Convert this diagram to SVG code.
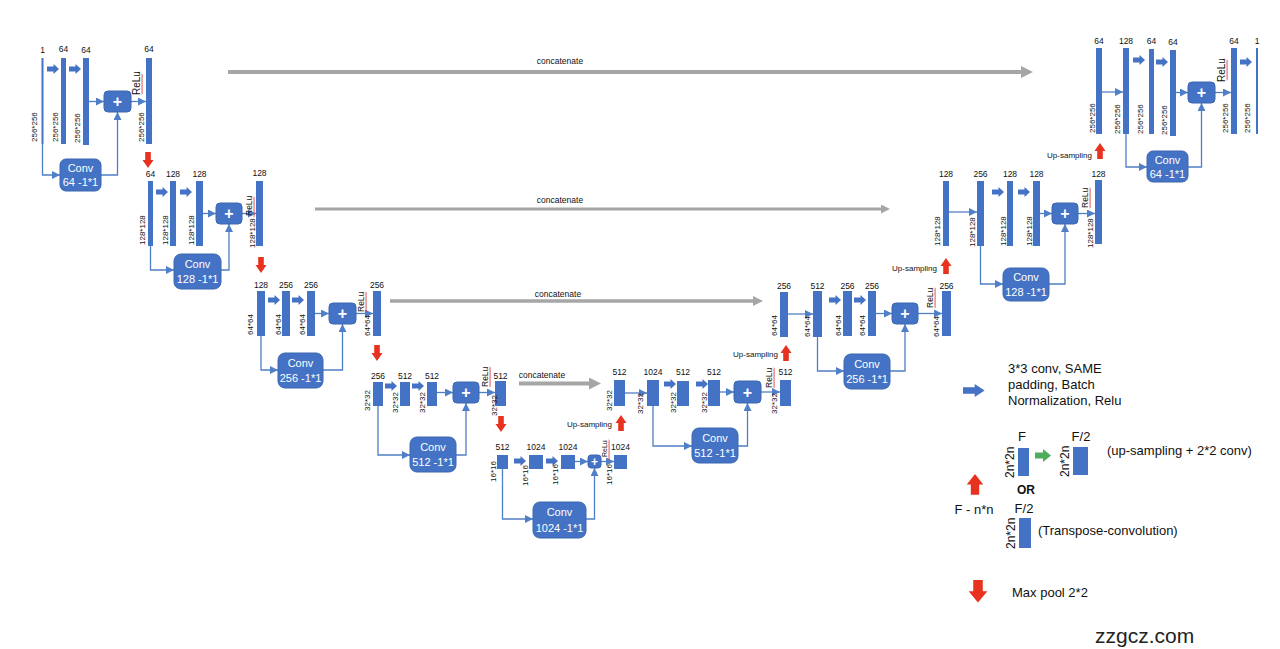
<svg xmlns="http://www.w3.org/2000/svg" xmlns:xlink="http://www.w3.org/1999/xlink" width="1280" height="649" viewBox="0 0 1280 649">
<defs>
<style>
.bar{fill:#4472c4}
.box{fill:#4472c4;stroke:#3d67b0;stroke-width:1}
.c{fill:none;stroke:#4f7fc6;stroke-width:1.3;marker-end:url(#ah)}
.g{fill:none;stroke:#a6a6a6;marker-end:url(#gh)}
.t{font-family:"Liberation Sans",Arial,sans-serif;font-size:8.5px;fill:#111;text-anchor:middle}
.s{font-family:"Liberation Sans",Arial,sans-serif;font-size:8px;fill:#111}
.r{font-family:"Liberation Sans",Arial,sans-serif;font-size:8.5px;fill:#111}
.r2{font-family:"Liberation Sans",Arial,sans-serif;font-size:10px;fill:#111}
.r3{font-family:"Liberation Sans",Arial,sans-serif;font-size:7px;fill:#111}
.w{font-family:"Liberation Sans",Arial,sans-serif;font-size:11px;fill:#fff;text-anchor:middle}
.p{font-family:"Liberation Sans",Arial,sans-serif;font-size:16px;font-weight:bold;fill:#fff;text-anchor:middle}
.sq{fill:none;stroke:#e0302a;stroke-width:0.8}
.lg{font-family:"Liberation Sans",Arial,sans-serif;font-size:13px;fill:#111}
.lr{font-family:"Liberation Sans",Arial,sans-serif;font-size:12px;fill:#111}
.us{font-family:"Liberation Sans",Arial,sans-serif;font-size:8px;fill:#111;text-anchor:end}
</style>
<marker id="ah" viewBox="0 0 10 10" refX="10" refY="5" markerWidth="8" markerHeight="8" markerUnits="userSpaceOnUse" orient="auto"><path d="M0,0 L10,5 L0,10 Z" fill="#4f7fc6"/></marker>
<marker id="gh" viewBox="0 0 10 10" refX="2" refY="5" markerWidth="3" markerHeight="3" markerUnits="strokeWidth" orient="auto"><path d="M0,0 L10,5 L0,10 Z" fill="#a6a6a6"/></marker>
<path id="ra" d="M0,2.5 H6.5 V0 L12,5 L6.5,10 V7.5 H0 Z" fill="#4472c4"/>
<path id="dn" d="M-2.8,0 H2.8 V8 H5.5 L0,16 L-5.5,8 H-2.8 Z" fill="#e8321f"/>
<path id="up" d="M-2.8,16 H2.8 V8 H5.5 L0,0 L-5.5,8 H-2.8 Z" fill="#e8321f"/>
<path id="sq" d="M0,0 l1.2,1 l-1.2,1 l1.2,1 l-1.2,1 l1.2,1 l-1.2,1 l1.2,1 l-1.2,1 l1.2,1 l-1.2,1 l1.2,1 l-1.2,1 l1.2,1 l-1.2,1 l1.2,1 l-1.2,1 l1.2,1 l-1.2,1 l1.2,1 l-1.2,1" class="sq"/>
</defs>
<rect width="1280" height="649" fill="#fff"/>

<g id="connectors">
<path class="c" d="M89,101.5 H104"/><path class="c" d="M131,101.5 H146"/><path class="c" d="M42.5,144 V175 H60"/><path class="c" d="M101,175 H117.5 V112"/>
<path class="c" d="M203,213.5 H216"/><path class="c" d="M242,213.5 H256"/><path class="c" d="M150.5,246 V270 H174"/><path class="c" d="M221,270 H229 V224"/>
<path class="c" d="M315,313.5 H329"/><path class="c" d="M356,313.5 H373"/><path class="c" d="M261,336 V370 H278"/><path class="c" d="M323,370 H342.5 V324"/>
<path class="c" d="M437,392.5 H453"/><path class="c" d="M479,392.5 H495"/><path class="c" d="M378,406 V455 H410"/><path class="c" d="M456,455 H466 V403"/>
<path class="c" d="M575,461.5 H588"/><path class="c" d="M601,461.5 H614"/><path class="c" d="M502.5,469 V519 H533"/><path class="c" d="M586,519 H594.5 V468"/>
<path class="c" d="M625,393 H647"/><path class="c" d="M720,392 H734"/><path class="c" d="M761,392 H780"/><path class="c" d="M653,406 V446 H692"/><path class="c" d="M738,446 H747.5 V403"/>
<path class="c" d="M788,314 H813"/><path class="c" d="M876,313.5 H892"/><path class="c" d="M918,313.5 H942"/><path class="c" d="M817.5,337 V371 H844"/><path class="c" d="M890,371 H905 V324"/>
<path class="c" d="M949,212 H977"/><path class="c" d="M1040,213.5 H1052"/><path class="c" d="M1078,213.5 H1095"/><path class="c" d="M980.5,246 V284 H1003"/><path class="c" d="M1049,284 H1065 V224"/>
<path class="c" d="M1102,92 H1123"/><path class="c" d="M1176,92.5 H1188"/><path class="c" d="M1215,92.5 H1231"/><path class="c" d="M1126,134 V167 H1147"/><path class="c" d="M1188,167 H1201.5 V103"/>
<path class="g" stroke-width="4" d="M228,72 H1023.4"/>
<path class="g" stroke-width="3" d="M315,209 H882.8"/>
<path class="g" stroke-width="3.5" d="M390,301 H754.6"/>
<path class="g" stroke-width="4" d="M519,383.5 H591.4"/>
<text class="t" x="560" y="64">concatenate</text>
<text class="t" x="560" y="203">concatenate</text>
<text class="t" x="558" y="297">concatenate</text>
<text class="t" x="542" y="378">concatenate</text>
</g>

<!-- Encoder level 1 -->
<g id="e1">
<g id="e1-b1"><rect class="bar" x="41.5" y="58" width="2" height="86"/><text class="t" x="42.5" y="53">1</text><text class="s" transform="translate(37,142) rotate(-90)">256*256</text></g>
<use href="#ra" x="47" y="64"/>
<g id="e1-b2"><rect class="bar" x="61" y="58" width="5" height="86"/><text class="t" x="63.5" y="52">64</text><text class="s" transform="translate(58,142) rotate(-90)">256*256</text></g>
<use href="#ra" x="69" y="64"/>
<g id="e1-b3"><rect class="bar" x="83" y="58" width="6" height="87"/><text class="t" x="86" y="53">64</text><text class="s" transform="translate(80,143) rotate(-90)">256*256</text></g>
<g id="e1-add"><rect class="box" x="104" y="91" width="27" height="21" rx="4"/><text class="p" x="117.5" y="107">+</text></g>
<g id="e1-b4"><rect class="bar" x="146" y="58" width="6" height="86"/><text class="t" x="149" y="52">64</text><text class="s" transform="translate(144,142) rotate(-90)">256*256</text><text class="r2" transform="translate(140,95) rotate(-90)">ReLu</text><use href="#sq" x="141.5" y="74"/></g>
<g id="e1-conv"><rect class="box" x="60" y="159" width="41" height="32" rx="6"/><text class="w" x="80.5" y="172">Conv</text><text class="w" x="80.5" y="186">64 -1*1</text></g>
<use href="#dn" x="148" y="152"/>
</g>

<!-- Encoder level 2 -->
<g id="e2">
<g id="e2-b1"><rect class="bar" x="148" y="181" width="5" height="65"/><text class="t" x="150.5" y="177">64</text><text class="s" transform="translate(145,245) rotate(-90)">128*128</text></g>
<use href="#ra" x="156" y="187"/>
<g id="e2-b2"><rect class="bar" x="170" y="181" width="6" height="65"/><text class="t" x="173" y="177">128</text><text class="s" transform="translate(168,245) rotate(-90)">128*128</text></g>
<use href="#ra" x="180" y="187"/>
<g id="e2-b3"><rect class="bar" x="196" y="181" width="7" height="65"/><text class="t" x="199.5" y="177">128</text><text class="s" transform="translate(194,245) rotate(-90)">128*128</text></g>
<g id="e2-add"><rect class="box" x="216" y="203" width="26" height="21" rx="4"/><text class="p" x="229" y="219">+</text></g>
<g id="e2-b4"><rect class="bar" x="256" y="181" width="7" height="65"/><text class="t" x="259.5" y="176">128</text><text class="s" transform="translate(255,248) rotate(-90)">128*128</text><text class="r" transform="translate(252,216) rotate(-90)">ReLu</text><use href="#sq" x="253.5" y="197"/></g>
<g id="e2-conv"><rect class="box" x="174" y="254" width="47" height="35" rx="7"/><text class="w" x="197.5" y="268">Conv</text><text class="w" x="197.5" y="283">128 -1*1</text></g>
<use href="#dn" x="261" y="257"/>
</g>

<!-- Encoder level 3 -->
<g id="e3">
<g id="e3-b1"><rect class="bar" x="257" y="291" width="8" height="45"/><text class="t" x="261" y="288">128</text><text class="s" transform="translate(253,335) rotate(-90)">64*64</text></g>
<use href="#ra" x="268" y="295"/>
<g id="e3-b2"><rect class="bar" x="282" y="291" width="8" height="45"/><text class="t" x="286" y="288">256</text><text class="s" transform="translate(281,335) rotate(-90)">64*64</text></g>
<use href="#ra" x="292" y="295"/>
<g id="e3-b3"><rect class="bar" x="307" y="291" width="8" height="45"/><text class="t" x="311" y="288">256</text><text class="s" transform="translate(305,335) rotate(-90)">64*64</text></g>
<g id="e3-add"><rect class="box" x="329" y="303" width="27" height="21" rx="4"/><text class="p" x="342.5" y="319">+</text></g>
<g id="e3-b4"><rect class="bar" x="373" y="291" width="8" height="45"/><text class="t" x="377" y="288">256</text><text class="s" transform="translate(370,336) rotate(-90)">64*64</text><text class="r" transform="translate(364,312) rotate(-90)">ReLu</text><use href="#sq" x="365.5" y="292"/></g>
<g id="e3-conv"><rect class="box" x="278" y="353" width="45" height="35" rx="7"/><text class="w" x="300.5" y="367">Conv</text><text class="w" x="300.5" y="382">256 -1*1</text></g>
<use href="#dn" x="377" y="345"/>
</g>

<!-- Encoder level 4 -->
<g id="e4">
<g id="e4-b1"><rect class="bar" x="373" y="382" width="10" height="24"/><text class="t" x="378" y="379">256</text><text class="s" transform="translate(370,411) rotate(-90)">32*32</text></g>
<use href="#ra" x="385" y="381"/>
<g id="e4-b2"><rect class="bar" x="400" y="382" width="10" height="24"/><text class="t" x="405" y="379">512</text><text class="s" transform="translate(398,413) rotate(-90)">32*32</text></g>
<use href="#ra" x="412" y="381"/>
<g id="e4-b3"><rect class="bar" x="427" y="382" width="10" height="24"/><text class="t" x="432" y="379">512</text><text class="s" transform="translate(425,413) rotate(-90)">32*32</text></g>
<g id="e4-add"><rect class="box" x="453" y="382" width="26" height="21" rx="4"/><text class="p" x="466" y="398">+</text></g>
<g id="e4-b4"><rect class="bar" x="495" y="381" width="11" height="25"/><text class="t" x="500.5" y="379">512</text><text class="s" transform="translate(497,416) rotate(-90)">32*32</text><text class="r" transform="translate(488,387) rotate(-90)">ReLu</text><use href="#sq" x="489.5" y="367"/></g>
<g id="e4-conv"><rect class="box" x="410" y="437" width="46" height="35" rx="7"/><text class="w" x="433" y="451">Conv</text><text class="w" x="433" y="466">512 -1*1</text></g>
<use href="#dn" x="501" y="416"/>
</g>

<!-- Bottleneck -->
<g id="e5">
<g id="e5-b1"><rect class="bar" x="497" y="455" width="11" height="14"/><text class="t" x="502.5" y="450">512</text><text class="s" transform="translate(496,482) rotate(-90)">16*16</text></g>
<use href="#ra" x="514" y="456"/>
<g id="e5-b2"><rect class="bar" x="529" y="455" width="14" height="14"/><text class="t" x="536" y="450">1024</text><text class="s" transform="translate(528,486) rotate(-90)">16*16</text></g>
<use href="#ra" x="546" y="456"/>
<g id="e5-b3"><rect class="bar" x="561" y="455" width="14" height="14"/><text class="t" x="568" y="450">1024</text><text class="s" transform="translate(558,485) rotate(-90)">16*16</text></g>
<g id="e5-add"><rect class="box" x="588" y="455" width="13" height="13" rx="3"/><text class="p" style="font-size:12px" x="594.5" y="466">+</text></g>
<g id="e5-b4"><rect class="bar" x="614" y="455" width="13" height="14"/><text class="t" x="620.5" y="450">1024</text><text class="s" transform="translate(612,485) rotate(-90)">16*16</text><text class="r3" transform="translate(607,457) rotate(-90)">ReLu</text><use href="#sq" x="608.5" y="440"/></g>
<g id="e5-conv"><rect class="box" x="533" y="502" width="53" height="36" rx="7"/><text class="w" x="559.5" y="516">Conv</text><text class="w" x="559.5" y="532">1024 -1*1</text></g>
</g>

<!-- Decoder level 4 -->
<g id="d4">
<g id="d4-b1"><rect class="bar" x="614" y="380" width="11" height="26"/><text class="t" x="619.5" y="375">512</text><text class="s" transform="translate(612,411) rotate(-90)">32*32</text></g>
<g id="d4-b2"><rect class="bar" x="647" y="380" width="12" height="26"/><text class="t" x="653" y="375">1024</text><text class="s" transform="translate(643,414) rotate(-90)">32*32</text></g>
<use href="#ra" x="664" y="379"/>
<g id="d4-b3"><rect class="bar" x="677" y="381" width="12" height="25"/><text class="t" x="683" y="375">512</text><text class="s" transform="translate(676,413) rotate(-90)">32*32</text></g>
<use href="#ra" x="696" y="379"/>
<g id="d4-b4"><rect class="bar" x="708" y="380" width="12" height="26"/><text class="t" x="714" y="375">512</text><text class="s" transform="translate(707,413) rotate(-90)">32*32</text></g>
<g id="d4-add"><rect class="box" x="734" y="381" width="27" height="22" rx="4"/><text class="p" x="747.5" y="398">+</text></g>
<g id="d4-b5"><rect class="bar" x="780" y="380" width="11" height="26"/><text class="t" x="785.5" y="375">512</text><text class="s" transform="translate(777,414) rotate(-90)">32*32</text><text class="r" transform="translate(772,388) rotate(-90)">ReLu</text><use href="#sq" x="773.5" y="368"/></g>
<g id="d4-conv"><rect class="box" x="692" y="428" width="46" height="35" rx="7"/><text class="w" x="715" y="442">Conv</text><text class="w" x="715" y="457">512 -1*1</text></g>
<g id="d4-up"><use href="#up" x="621" y="415"/><text class="us" x="612" y="427">Up-sampling</text></g>
</g>

<!-- Decoder level 3 -->
<g id="d3">
<g id="d3-b1"><rect class="bar" x="780" y="292" width="8" height="45"/><text class="t" x="784" y="289">256</text><text class="s" transform="translate(777,336) rotate(-90)">64*64</text></g>
<g id="d3-b2"><rect class="bar" x="813" y="291" width="9" height="46"/><text class="t" x="817.5" y="289">512</text><text class="s" transform="translate(810,337) rotate(-90)">64*64</text></g>
<use href="#ra" x="829" y="295"/>
<g id="d3-b3"><rect class="bar" x="843" y="291" width="9" height="45"/><text class="t" x="847.5" y="289">256</text><text class="s" transform="translate(841,336) rotate(-90)">64*64</text></g>
<use href="#ra" x="854" y="295"/>
<g id="d3-b4"><rect class="bar" x="868" y="291" width="8" height="45"/><text class="t" x="872" y="289">256</text><text class="s" transform="translate(865,336) rotate(-90)">64*64</text></g>
<g id="d3-add"><rect class="box" x="892" y="303" width="26" height="21" rx="4"/><text class="p" x="905" y="319">+</text></g>
<g id="d3-b5"><rect class="bar" x="942" y="291" width="9" height="45"/><text class="t" x="946.5" y="289">256</text><text class="s" transform="translate(939,337) rotate(-90)">64*64</text><text class="r" transform="translate(933,308) rotate(-90)">ReLu</text><use href="#sq" x="934.5" y="288"/></g>
<g id="d3-conv"><rect class="box" x="844" y="354" width="46" height="35" rx="7"/><text class="w" x="867" y="368">Conv</text><text class="w" x="867" y="383">256 -1*1</text></g>
<g id="d3-up"><use href="#up" x="786" y="345"/><text class="us" x="778" y="357">Up-sampling</text></g>
</g>

<!-- Decoder level 2 -->
<g id="d2">
<g id="d2-b1"><rect class="bar" x="943" y="181" width="6" height="65"/><text class="t" x="946" y="177">128</text><text class="s" transform="translate(940,246) rotate(-90)">128*128</text></g>
<g id="d2-b2"><rect class="bar" x="977" y="181" width="7" height="65"/><text class="t" x="980.5" y="177">256</text><text class="s" transform="translate(975,247) rotate(-90)">128*128</text></g>
<use href="#ra" x="992" y="187"/>
<g id="d2-b3"><rect class="bar" x="1007" y="181" width="6" height="65"/><text class="t" x="1010" y="177">128</text><text class="s" transform="translate(1006,246) rotate(-90)">128*128</text></g>
<use href="#ra" x="1018" y="187"/>
<g id="d2-b4"><rect class="bar" x="1033" y="181" width="7" height="65"/><text class="t" x="1036.5" y="177">128</text><text class="s" transform="translate(1032,246) rotate(-90)">128*128</text></g>
<g id="d2-add"><rect class="box" x="1052" y="203" width="26" height="21" rx="4"/><text class="p" x="1065" y="219">+</text></g>
<g id="d2-b5"><rect class="bar" x="1095" y="180" width="7" height="64"/><text class="t" x="1098.5" y="177">128</text><text class="s" transform="translate(1093,248) rotate(-90)">128*128</text><text class="r" transform="translate(1088,208) rotate(-90)">ReLu</text><use href="#sq" x="1089.5" y="188"/></g>
<g id="d2-conv"><rect class="box" x="1003" y="268" width="46" height="33" rx="7"/><text class="w" x="1026" y="281">Conv</text><text class="w" x="1026" y="296">128 -1*1</text></g>
<g id="d2-up"><use href="#up" x="946" y="258"/><text class="us" x="937" y="271">Up-sampling</text></g>
</g>

<!-- Decoder level 1 -->
<g id="d1">
<g id="d1-b1"><rect class="bar" x="1096" y="48" width="6" height="86"/><text class="t" x="1099" y="44">64</text><text class="s" transform="translate(1095,133) rotate(-90)">256*256</text></g>
<g id="d1-b2"><rect class="bar" x="1123" y="48" width="6" height="86"/><text class="t" x="1126" y="44">128</text><text class="s" transform="translate(1120,134) rotate(-90)">256*256</text></g>
<use href="#ra" x="1133" y="55"/>
<g id="d1-b3"><rect class="bar" x="1149" y="49" width="5" height="85"/><text class="t" x="1151.5" y="44">64</text><text class="s" transform="translate(1143,134) rotate(-90)">256*256</text></g>
<use href="#ra" x="1156" y="57"/>
<g id="d1-b4"><rect class="bar" x="1170" y="50" width="6" height="86"/><text class="t" x="1173" y="45">64</text><text class="s" transform="translate(1167,135) rotate(-90)">256*256</text></g>
<g id="d1-add"><rect class="box" x="1188" y="82" width="27" height="21" rx="4"/><text class="p" x="1201.5" y="98">+</text></g>
<g id="d1-b5"><rect class="bar" x="1231" y="48" width="6" height="86"/><text class="t" x="1234" y="44">64</text><text class="s" transform="translate(1228,133) rotate(-90)">256*256</text><text class="r2" transform="translate(1225,82) rotate(-90)">ReLu</text><use href="#sq" x="1226.5" y="60"/></g>
<use href="#ra" x="1240" y="57"/>
<g id="d1-b6"><rect class="bar" x="1256" y="48" width="2" height="86"/><text class="t" x="1257" y="44">1</text><text class="s" transform="translate(1250,133) rotate(-90)">256*256</text></g>
<g id="d1-conv"><rect class="box" x="1147" y="151" width="41" height="31" rx="6"/><text class="w" x="1167.5" y="164">Conv</text><text class="w" x="1167.5" y="178">64 -1*1</text></g>
<g id="d1-up"><use href="#up" x="1100" y="143"/><text class="us" x="1092" y="158">Up-sampling</text></g>
</g>

<!-- Legend -->
<g id="legend">
<g id="lg-conv"><use href="#ra" transform="translate(963,384) scale(1.8,1.3)"/><text class="lg" x="1008" y="373">3*3 conv, SAME</text><text class="lg" x="1008" y="389">padding, Batch</text><text class="lg" x="1008" y="405">Normalization, Relu</text></g>
<g id="lg-up">
<text class="lg" x="1022" y="441" text-anchor="middle">F</text>
<rect class="bar" x="1018" y="448" width="11" height="28"/>
<text class="lr" transform="translate(1014,478) rotate(-90)">2n*2n</text>
<path d="M1035,452.5 H1043 V449 L1051,455.5 L1043,462 V458.5 H1035 Z" fill="#4ead5b"/>
<text class="lg" x="1081" y="441" text-anchor="middle">F/2</text>
<rect class="bar" x="1073" y="447" width="15" height="28"/>
<text class="lr" transform="translate(1069,477) rotate(-90)">2n*2n</text>
<text class="lg" x="1107" y="455">(up-sampling + 2*2 conv)</text>
<text class="lr" x="1026" y="494" text-anchor="middle" font-weight="bold">OR</text>
<text class="lg" x="1024" y="513" text-anchor="middle">F/2</text>
<rect class="bar" x="1019" y="518" width="12" height="30"/>
<text class="lr" transform="translate(1015,549) rotate(-90)">2n*2n</text>
<text class="lg" x="1038" y="535">(Transpose-convolution)</text>
<use href="#up" transform="translate(975,474) scale(1.5,1.3)"/>
<text class="lg" x="974" y="514" text-anchor="middle">F - n*n</text>
</g>
<g id="lg-pool"><use href="#dn" transform="translate(978,580) scale(1.7,1.4)"/><text class="lg" x="1012" y="597">Max pool 2*2</text></g>
</g>

<text x="1095" y="643" font-family="Liberation Sans, Arial, sans-serif" font-size="21" fill="#222">zzgcz.com</text>
</svg>
